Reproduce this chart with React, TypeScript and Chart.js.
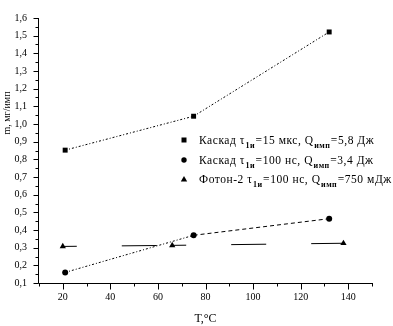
import React, { useEffect, useRef } from 'react';
import { Chart, registerables } from 'chart.js';

Chart.register(...registerables);

// ---- data ----
const kaskad15T = [21, 75, 132];
const kaskad15M = [0.852, 1.044, 1.521];
const kaskad100T = [21, 75, 132];
const kaskad100M = [0.16, 0.37, 0.464];
const fotonT = [20, 66, 138];
const fotonM = [0.307, 0.313, 0.325];

const legendNames = ['Каскад', 'Каскад', 'Фотон-2'];
const legendTau = ['15 мкс', '100 нс', '100 нс'];
const legendQ = ['5,8 Дж', '3,4 Дж', '750 мДж'];
const legendStyles = ['rect', 'circle', 'triangle'];

const xMin = 10;
const xMax = 150;
const yMin = 0.1;
const yMax = 1.6;
const xLabelTicks = [20, 40, 60, 80, 100, 120, 140];

const xTitle = 'T,°C';
const yTitle = 'm, мг/имп';

const FONT = '"Liberation Serif", "Times New Roman", serif';

const toPts = (xs: number[], ys: number[]) => xs.map((x, i) => ({ x, y: ys[i] }));

const axesPlugin = {
  id: 'customAxes',
  afterDraw(chart: any) {
    const ctx = chart.ctx as CanvasRenderingContext2D;
    const xs = chart.scales.x;
    const ys = chart.scales.y;
    const { left, right, top, bottom } = chart.chartArea;
    const L = Math.round(left) - 0.5;
    const B = Math.round(bottom) + 0.5;
    ctx.save();
    ctx.strokeStyle = '#000';
    ctx.lineWidth = 1;
    ctx.beginPath();
    ctx.moveTo(L, Math.round(top));
    ctx.lineTo(L, B);
    ctx.lineTo(Math.round(right) + 1, B);
    // y ticks
    for (let i = 0; i <= Math.round((yMax - yMin) / 0.05); i++) {
      const v = yMin + i * 0.05;
      const py = Math.round(ys.getPixelForValue(v)) + 0.5;
      const len = i % 2 === 0 ? 5 : 3;
      ctx.moveTo(L - len, py);
      ctx.lineTo(L, py);
    }
    // x ticks
    for (let v = xMin; v <= xMax; v += 10) {
      const px = Math.round(xs.getPixelForValue(v)) + 0.5;
      const len = v % 20 === 0 ? 6 : 3;
      ctx.moveTo(px, B);
      ctx.lineTo(px, B + len);
    }
    ctx.stroke();

    // y title
    ctx.fillStyle = '#000';
    ctx.font = `10px ${FONT}`;
    ctx.textAlign = 'center';
    ctx.textBaseline = 'middle';
    ctx.translate(7, 113);
    ctx.rotate(-Math.PI / 2);
    ctx.fillText(yTitle, 0, 0);
    ctx.restore();
  },
};

const legendPlugin = {
  id: 'customLegend',
  afterDraw(chart: any) {
    const ctx = chart.ctx as CanvasRenderingContext2D;
    const markerX = 184;
    const textX = 199;
    const baselines = [144, 164, 183];
    ctx.save();
    ctx.fillStyle = '#000';
    ctx.strokeStyle = '#000';
    legendNames.forEach((name, i) => {
      const by = baselines[i];
      const my = by - 4;
      // marker
      ctx.beginPath();
      if (legendStyles[i] === 'rect') {
        ctx.rect(markerX - 2.5, my - 2.5, 5, 5);
      } else if (legendStyles[i] === 'circle') {
        ctx.arc(markerX, my, 2.7, 0, Math.PI * 2);
      } else {
        ctx.moveTo(markerX, my - 3);
        ctx.lineTo(markerX + 3.2, my + 2.5);
        ctx.lineTo(markerX - 3.2, my + 2.5);
        ctx.closePath();
      }
      ctx.fill();

      const parts: { t: string; sub?: boolean }[] = [
        { t: `${name} τ` },
        { t: '1и', sub: true },
        { t: `=${legendTau[i]}, Q` },
        { t: 'имп', sub: true },
        { t: `=${legendQ[i]}` },
      ];
      let x = textX;
      ctx.textAlign = 'left';
      ctx.textBaseline = 'alphabetic';
      for (const p of parts) {
        if (p.sub) {
          ctx.font = `bold 8px ${FONT}`;
          (ctx as any).letterSpacing = '0.5px';
          ctx.fillText(p.t, x + 0.5, by + 4);
          x += ctx.measureText(p.t).width + 1;
        } else {
          ctx.font = `11.5px ${FONT}`;
          (ctx as any).letterSpacing = '0.55px';
          ctx.fillText(p.t, x, by);
          x += ctx.measureText(p.t).width;
        }
      }
    });
    ctx.restore();
  },
};

export default function App() {
  const canvasRef = useRef<HTMLCanvasElement | null>(null);

  useEffect(() => {
    document.body.style.margin = '0';
    const canvas = canvasRef.current;
    if (!canvas) return;

    const chart = new Chart(canvas, {
      type: 'scatter',
      data: {
        datasets: [
          {
            label: 'Каскад 15 мкс',
            data: toPts(kaskad15T, kaskad15M),
            showLine: true,
            borderColor: '#000',
            backgroundColor: '#000',
            borderWidth: 1,
            borderDash: [2, 2, 1, 2],
            pointStyle: 'rect',
            pointRadius: 3.5,
            pointBorderWidth: 0,
          },
          {
            label: 'Каскад 100 нс',
            data: toPts(kaskad100T, kaskad100M),
            showLine: true,
            borderColor: '#000',
            backgroundColor: '#000',
            borderWidth: 1,
            pointStyle: 'circle',
            pointRadius: 3,
            pointBorderWidth: 0,
            segment: {
              borderDash: (c: any) => (c.p0DataIndex === 0 ? [2, 2, 1, 2] : [4, 3]),
            },
          },
          {
            label: 'Фотон-2',
            data: toPts(fotonT, fotonM),
            showLine: true,
            borderColor: '#000',
            backgroundColor: '#000',
            borderWidth: 1,
            borderDash: [35, 45],
            pointStyle: 'triangle',
            pointRadius: 3.6,
            pointBorderWidth: 0,
            segment: {
              borderDashOffset: (c: any) => (c.p0DataIndex === 0 ? 21 : 101),
            },
          },
        ],
      },
      options: {
        animation: false,
        responsive: false,
        maintainAspectRatio: false,
        layout: { padding: { top: 10, right: 21, left: 0, bottom: 0 } },
        plugins: {
          legend: { display: false },
          tooltip: { enabled: false },
        },
        scales: {
          x: {
            type: 'linear',
            min: xMin,
            max: xMax,
            grid: { display: false, drawTicks: false },
            border: { display: false },
            afterBuildTicks: (s: any) => {
              s.ticks = xLabelTicks.map((v) => ({ value: v }));
            },
            afterFit: (s: any) => {
              s.height = 43;
            },
            ticks: {
              color: '#000',
              font: { family: FONT, size: 10 },
              padding: 8,
              maxRotation: 0,
              autoSkip: false,
              callback: (v: any) => String(v),
            },
            title: {
              display: true,
              text: xTitle,
              color: '#000',
              font: { family: FONT, size: 12 },
              padding: { top: 1, bottom: 0 },
            },
          },
          y: {
            type: 'linear',
            min: yMin,
            max: yMax,
            grid: { display: false, drawTicks: false },
            border: { display: false },
            afterBuildTicks: (s: any) => {
              const t = [];
              for (let i = 0; i <= 15; i++) t.push({ value: Math.round((yMin + i * 0.1) * 10) / 10 });
              s.ticks = t;
            },
            afterFit: (s: any) => {
              s.width = 39;
            },
            ticks: {
              color: '#000',
              font: { family: FONT, size: 10 },
              padding: 12,
              autoSkip: false,
              callback: (v: any) => Number(v).toFixed(1).replace('.', ','),
            },
          },
        },
      },
      plugins: [axesPlugin, legendPlugin],
    } as any);

    return () => chart.destroy();
  }, []);

  return (
    <div style={{ width: 393, height: 326, background: '#fff' }}>
      <canvas ref={canvasRef} width={393} height={326} style={{ display: 'block' }} />
    </div>
  );
}
